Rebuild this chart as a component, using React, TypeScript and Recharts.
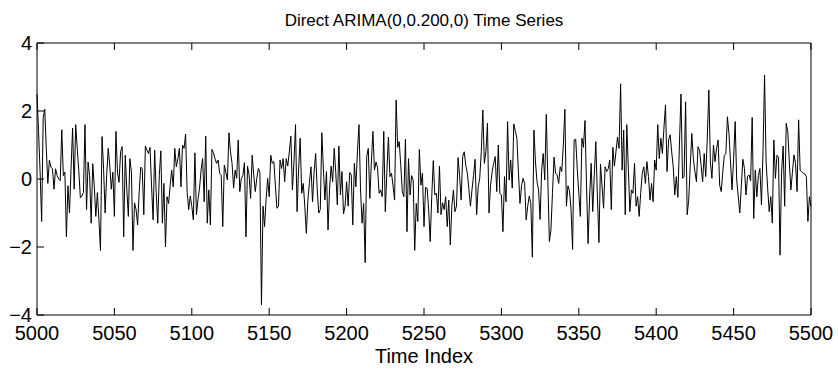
import { LineChart, Line, XAxis, YAxis } from "recharts";

// ARIMA(0,0.2,0) realisation, index 5000..5500
const startIndex = 5000;
const series = [
  2.5, 1.4, 0.2, -1.25, 1.8, 2.05, 0.9, -0.13, 0.55, 0.35,
  0.3, -0.3, 0.3, 0.1, 0.0, -0.05, 1.45, 0.1, 0.2, -1.7,
  -0.2, -1.0, 0.3, 1.5, -0.3, 1.6, 0.9, 0.25, -0.55, -0.5,
  -0.4, 1.6, -0.9, 0.5, 0.1, -1.3, 0.45, -0.2, -1.1, -0.4,
  -1.2, -2.1, 1.25, 0.3, -1.0, 0.1, 0.9, 0.4, -0.3, 0.2,
  -1.1, 1.4, 0.2, -0.1, 0.8, 0.95, -1.7, 0.7, -0.3, -1.1,
  0.6, 0.2, -2.1, -0.7, -0.9, -1.35, -0.4, 0.35, 0.3, -1.05,
  0.97, 0.85, 0.75, 0.93, -0.2, -1.2, 0.85, -0.4, -1.3, 0.1,
  0.83, -1.3, -0.13, -2.0, -0.52, -0.72, -0.2, 0.26, -0.23, 0.9,
  0.36, 0.6, 0.9, -0.23, 1.0, 0.9, 1.32, -0.4, -0.9, -0.5,
  -0.8, -1.2, 0.77, -1.05, -0.6, -0.27, 0.26, 0.6, -0.67, 1.26,
  -1.3, -0.32, -1.35, 0.87, 0.77, 0.6, 0.46, 0.56, 0.17, 0.12,
  -1.4, 0.41, 0.2, -0.03, 1.36, 0.8, 0.46, -0.27, 0.26, 0.02,
  1.15, -0.37, 0.02, 0.1, 0.48, -1.7, 0.38, 0.12, -0.57, 0.7,
  0.12, -0.37, 0.02, 0.31, 0.2, -3.7, -0.8, -1.4, -0.6, 0.02,
  -0.52, 0.7, 0.46, 0.51, -0.2, -0.86, -0.8, 0.56, 0.31, 0.6,
  -0.08, 0.6, 0.38, 0.8, 1.26, -0.32, 0.5, 1.6, -0.96, 0.3,
  1.2, -0.42, -0.13, -0.8, -1.6, -0.62, -0.1, 0.36, -0.67, 0.2,
  0.75, -0.3, -1.0, -0.9, 1.36, 0.3, -0.62, 0.22, -1.5, -0.3,
  0.38, -0.08, 0.9, 0.2, -0.76, 0.97, -0.47, 0.22, -1.03, -0.8,
  -0.08, -0.8, 0.19, 0.12, -1.35, 0.46, -0.23, 0.8, 1.6, -0.32,
  -1.3, -0.72, -2.46, 0.66, 0.9, -0.57, 0.5, 1.4, 0.26, 0.5,
  0.34, -0.42, -0.32, -0.52, 1.4, -0.96, 0.2, 1.23, 0.07, 0.17,
  -0.2, -0.62, 2.32, 0.93, 1.1, 0.4, -0.37, -0.52, 1.17, -1.55,
  0.6, -0.47, 0.1, -0.03, -2.1, -0.72, -1.25, 0.87, -0.18, 0.17,
  -1.4, -0.25, -0.27, -0.9, -1.84, -0.52, 0.54, -0.47, -0.42, -1.0,
  0.38, -1.05, -0.7, -0.9, -0.52, -1.4, -0.62, -1.94, -0.8, -0.32,
  -0.96, -0.8, 0.63, 0.1, -0.62, 0.66, 0.8, 0.4, 0.17, -0.3,
  -0.8, -0.32, 0.1, 0.58, -1.05, -0.23, 0.02, 0.8, 2.03, 0.46,
  0.8, 1.64, -1.0, -0.18, 0.2, 0.46, 0.66, -0.37, 1.0, -0.42,
  -0.47, -1.55, 0.07, -0.67, 1.69, -0.03, 0.56, -0.27, 1.62, 1.4,
  1.2, 0.2, -0.72, -0.2, 0.02, -0.13, -1.2, -0.8, -0.5, -0.72,
  -2.3, 1.44, 0.5, -0.08, -0.32, -1.19, 0.26, 0.75, -0.03, 1.9,
  -0.03, -1.84, -1.5, -0.4, 0.64, 0.17, 0.12, -0.13, 0.36, 0.22,
  1.0, 2.05, -0.8, -0.2, -0.35, -0.9, -2.07, 1.15, 1.17, 0.3,
  -0.42, -1.1, 1.2, 0.93, 1.72, -0.2, -1.9, -0.5, 0.46, -0.96,
  0.1, 1.1, -0.5, -1.87, 0.44, -0.2, -0.86, 0.36, 0.22, 0.3,
  0.56, -0.9, 0.93, 0.38, 0.8, 1.23, 0.9, 2.8, 0.26, 1.44,
  -1.05, 1.6, 0.3, -0.96, -0.32, -0.42, 0.46, -0.8, -0.52, -1.1,
  -0.4, 0.17, 0.36, -0.13, 0.51, 0.07, -0.62, -0.13, -0.67, 0.56,
  0.26, 1.6, 0.6, 1.2, 0.75, 1.5, 2.18, 0.22, 1.15, 1.3,
  0.8, 0.36, -0.47, 0.07, -0.54, 1.0, 2.5, 0.02, 0.07, 2.27,
  -1.05, -0.62, 0.4, 1.34, 0.6, 0.22, -0.08, 0.95, 0.85, 0.4,
  -0.08, 0.75, 0.07, 1.2, 2.62, 0.5, 0.02, 1.0, 0.51, 0.9,
  1.15, -0.18, -0.37, 0.2, 0.7, 0.74, 1.83, 1.34, 0.5, -0.32,
  0.6, 1.69, -0.03, -0.5, -1.0, -0.2, 0.58, 0.31, -0.47, 0.07,
  0.12, -0.05, 1.81, -1.16, 0.26, -0.52, 0.1, 0.31, -0.76, 0.8,
  3.06, 0.5, -0.27, -0.96, -0.52, -1.3, 1.15, 0.02, 0.7, 0.64,
  -2.24, 0.2, 0.97, -0.8, 1.64, 1.39, 0.5, -0.32, 0.2, 0.71,
  0.46, -0.37, 1.74, 0.25, 0.22, 0.17, 0.15, 0.07, -1.25, -0.52, -0.81,
];

const xTicks = [5000, 5050, 5100, 5150, 5200, 5250, 5300, 5350, 5400, 5450, 5500];
const yTicks = [-4, -2, 0, 2, 4];
const title = "Direct ARIMA(0,0.200,0) Time Series";
const xLabel = "Time Index";

const data = series.map((v, i) => ({ t: startIndex + i, v }));

const font = "'Liberation Sans', Arial, Helvetica, sans-serif";
const TICK_LEN = 7; // matlab-style ticks point into the box
const X_GAP = 11;
const Y_GAP = 5;
const fmtY = (v: number) => (v < 0 ? `\u2212${-v}` : `${v}`);

// tickSize is 0 on every axis, so props.x / props.y = axis position +/- tickMargin
const BottomTick = (p: any) => {
  const axisY = p.y - X_GAP;
  return (
    <g>
      <line x1={p.x} x2={p.x} y1={axisY} y2={axisY - TICK_LEN} stroke="#000" />
      <text x={p.x} y={p.y} dy="0.71em" textAnchor="middle" fontSize={20} fill="#000" fontFamily={font}>
        {p.payload.value}
      </text>
    </g>
  );
};

const LeftTick = (p: any) => {
  const axisX = p.x + Y_GAP;
  return (
    <g>
      <line x1={axisX} x2={axisX + TICK_LEN} y1={p.y} y2={p.y} stroke="#000" />
      <text x={p.x} y={p.y} dy="0.355em" textAnchor="end" fontSize={20} fill="#000" fontFamily={font}>
        {fmtY(p.payload.value)}
      </text>
    </g>
  );
};

const TopTick = (p: any) => <line x1={p.x} x2={p.x} y1={p.y} y2={p.y + TICK_LEN} stroke="#000" />;
const RightTick = (p: any) => <line x1={p.x} x2={p.x - TICK_LEN} y1={p.y} y2={p.y} stroke="#000" />;

export default function App() {
  return (
    <div style={{ position: "absolute", left: 0, top: 0, width: 838, height: 374, background: "#fff" }}>
      <LineChart width={838} height={374} data={data} margin={{ top: 42, right: 26, bottom: 0, left: 0 }}>
        <XAxis
          xAxisId="bottom"
          dataKey="t"
          type="number"
          domain={[5000, 5500]}
          ticks={xTicks}
          interval={0}
          height={59}
          stroke="#000"
          tickLine={false}
          tickSize={0}
          tickMargin={X_GAP}
          tick={<BottomTick />}
          label={{ value: xLabel, position: "insideBottom", offset: 11, fontSize: 20, fill: "#000", fontFamily: font }}
        />
        <XAxis
          xAxisId="top"
          orientation="top"
          dataKey="t"
          type="number"
          domain={[5000, 5500]}
          ticks={xTicks}
          interval={0}
          height={1}
          stroke="#000"
          tickLine={false}
          tickSize={0}
          tickMargin={0}
          tick={<TopTick />}
          label={{ value: title, position: "top", offset: 16, fontSize: 17, fill: "#000", fontFamily: font }}
        />
        <YAxis
          yAxisId="left"
          domain={[-4, 4]}
          ticks={yTicks}
          interval={0}
          width={37}
          stroke="#000"
          tickLine={false}
          tickSize={0}
          tickMargin={Y_GAP}
          tick={<LeftTick />}
        />
        <YAxis
          yAxisId="right"
          orientation="right"
          domain={[-4, 4]}
          ticks={yTicks}
          interval={0}
          width={1}
          stroke="#000"
          tickLine={false}
          tickSize={0}
          tickMargin={0}
          tick={<RightTick />}
        />
        <Line
          xAxisId="bottom"
          yAxisId="left"
          dataKey="v"
          type="linear"
          stroke="#000"
          strokeWidth={1}
          dot={false}
          isAnimationActive={false}
        />
      </LineChart>
    </div>
  );
}
